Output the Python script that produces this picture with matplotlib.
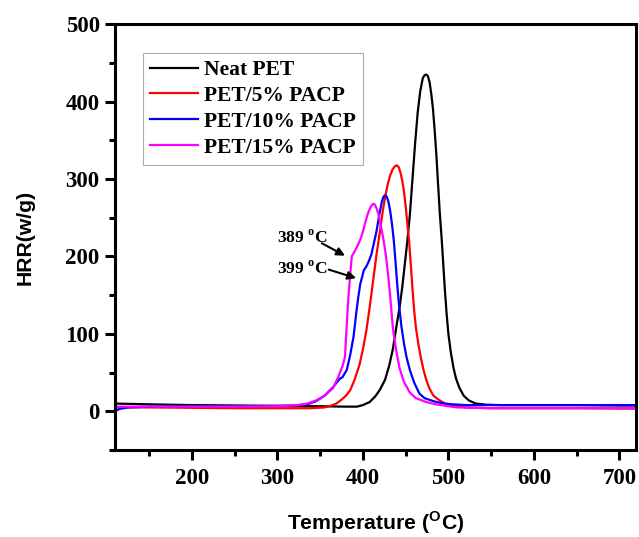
import matplotlib
matplotlib.use("Agg")
import matplotlib.pyplot as plt
from matplotlib.ticker import MultipleLocator

plt.rcParams['mathtext.fontset'] = 'custom'
plt.rcParams['mathtext.bf'] = 'Liberation Serif:bold'
plt.rcParams['mathtext.sf'] = 'Liberation Sans:bold'

# Neat PET
t_neat = [110, 150, 200, 250, 300, 350, 380, 393, 400, 408, 415, 420, 426, 431, 435, 440, 443,
          446, 449, 452, 455, 458, 461, 464, 467, 470, 472, 474, 476, 478, 480, 482, 484, 486,
          488, 490, 492, 494, 496, 498, 500, 503, 506, 509, 513, 518, 524, 532, 544, 560, 600,
          650, 700, 720]
hrr_neat = [10, 9, 8, 7.5, 7, 6.5, 6, 6, 8, 12, 20, 28, 41, 60, 80, 115, 135,
            160, 190, 220, 255, 300, 345, 385, 413, 430, 434, 435, 433, 425, 410, 390, 362, 330,
            292, 255, 225, 190, 155, 125, 100, 75, 56, 42, 30, 20, 14, 10, 8.5, 8, 8,
            8, 7.5, 7.5]

# PET/5% PACP
t_5 = [110, 150, 200, 250, 300, 340, 355, 362, 369, 375, 380, 385, 390, 396, 400, 404, 408,
       412, 416, 420, 423, 426, 429, 432, 435, 438, 440, 442, 444, 446, 448, 450, 452, 454,
       456, 458, 460, 462, 465, 468, 471, 474, 478, 482, 486, 490, 496, 503, 509, 520, 550,
       600, 650, 700, 720]
hrr_5 = [5, 5, 4.5, 4, 4, 4, 5, 7, 10, 15, 20, 27, 40, 60, 80, 104, 135,
         169, 203, 233, 257, 277, 293, 305, 313, 317, 317.5, 315, 308, 298, 284, 265, 243, 220,
         190, 158, 130, 108, 86, 68, 53, 41, 29, 21, 17, 14, 10, 8, 7, 5, 4,
         4, 4, 3.5, 3.5]

# PET/10% PACP
t_10 = [110, 115, 125, 150, 200, 250, 300, 320, 335, 345, 355, 365, 370, 373, 376, 381, 385,
        389, 392, 394.5, 397, 399, 401, 404, 407, 410, 413, 416, 419, 422, 424, 426, 428, 430,
        432, 434, 436, 438, 440, 442, 445, 448, 451, 455, 460, 466, 472, 480, 486, 495, 505,
        520, 560, 600, 650, 700, 720]
hrr_10 = [0, 3, 5, 6, 6.5, 6.5, 7, 7.5, 9, 13, 20, 31, 38, 42, 44, 53, 72,
          96, 125, 147, 165, 173, 182, 187, 194, 203, 218, 233, 253, 270, 277, 279, 277, 270,
          258, 242, 222, 195, 166, 140, 110, 88, 70, 53, 37, 23, 17, 14, 12, 10, 9,
          8, 8, 8, 8, 8, 8]

# PET/15% PACP
t_15 = [110, 150, 200, 250, 300, 320, 335, 345, 355, 365, 371, 376, 379, 381, 383, 385, 387,
        390, 393, 397, 400, 403, 406, 409, 412, 414, 416, 418, 420, 422, 424, 426, 428, 430,
        432, 435, 439, 443, 448, 455, 462, 474, 485, 497, 510, 550, 600, 650, 700, 720]
hrr_15 = [6, 6, 6, 6, 6.5, 7.5, 10, 14, 20, 30, 44, 58, 70, 110, 147, 175, 200,
          206, 212, 222, 232, 245, 256, 264, 268, 267, 262, 255, 245, 234, 222, 208, 191, 170,
          148, 108, 78, 55, 38, 24, 17, 12, 9, 7, 5, 4, 4, 4, 4, 4]

fig = plt.figure(figsize=(6.39, 5.37), dpi=100)
ax = fig.add_axes([0.18, 0.162, 0.816, 0.793])

ax.plot(t_neat, hrr_neat, color='black', lw=1.6, label='Neat PET')
ax.plot(t_5, hrr_5, color='#ff0000', lw=1.6, label='PET/5% PACP')
ax.plot(t_10, hrr_10, color='#0000ff', lw=1.6, label='PET/10% PACP')
ax.plot(t_15, hrr_15, color='#ff00ff', lw=1.6, label='PET/15% PACP')

ax.set_xlim(110, 720)
ax.set_ylim(-50, 500)
ax.xaxis.set_major_locator(MultipleLocator(100))
ax.xaxis.set_minor_locator(MultipleLocator(50))
ax.yaxis.set_major_locator(MultipleLocator(100))
ax.yaxis.set_minor_locator(MultipleLocator(50))

for s in ax.spines.values():
    s.set_linewidth(2.2)
ax.tick_params(which='major', direction='out', length=7, width=2.2, pad=4,
               top=False, right=False)
ax.tick_params(axis='x', which='major', pad=6)
ax.tick_params(which='minor', direction='out', length=4.5, width=2.2,
               top=False, right=False)
for lab in ax.get_xticklabels() + ax.get_yticklabels():
    lab.set_fontfamily('Liberation Serif')
    lab.set_fontweight('bold')
    lab.set_fontsize(16.5)

ax.set_xlabel(r'Temperature ($^{\mathsf{O}}$C)', family='Liberation Sans',
              weight='bold', fontsize=15.3, labelpad=14.5)
ax.set_ylabel('HRR(w/g)', family='Liberation Sans', weight='bold',
              fontsize=15.3, labelpad=22)

# peak shoulder labels
ax.text(329, 224, r'389 $^{\mathbf{o}}$C', ha='center', va='center',
        family='Liberation Serif', weight='bold', fontsize=12.5)
ax.text(329, 184, r'399 $^{\mathbf{o}}$C', ha='center', va='center',
        family='Liberation Serif', weight='bold', fontsize=12.5)
arrow = dict(arrowstyle='-|>', color='black', lw=1.5, shrinkA=0, shrinkB=0,
             mutation_scale=12)
ax.annotate('', xy=(379, 201), xytext=(352, 217), arrowprops=arrow)
ax.annotate('', xy=(392, 172), xytext=(360, 183), arrowprops=arrow)

leg = ax.legend(loc='upper left', bbox_to_anchor=(0.054, 0.933), fancybox=False,
                edgecolor='#999999', prop={'family': 'Liberation Serif', 'weight': 'bold',
                                           'size': 15.5},
                handlelength=2.2, handletextpad=0.28, labelspacing=0.27,
                borderpad=0.34, borderaxespad=0)
leg.get_frame().set_linewidth(0.8)

fig.savefig('out.png', dpi=100)
